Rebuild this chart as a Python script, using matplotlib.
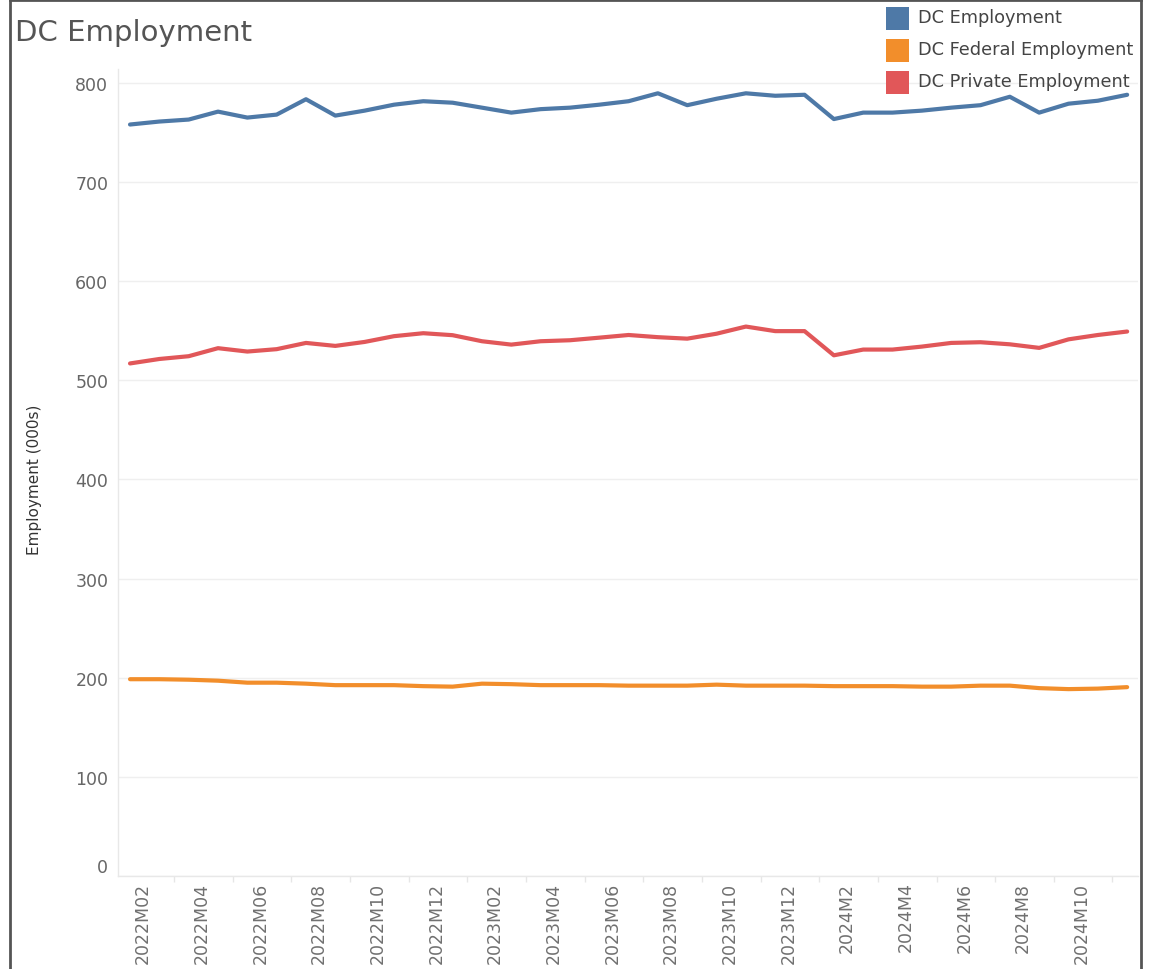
import matplotlib
matplotlib.use("Agg")
import matplotlib.pyplot as plt
from matplotlib.lines import Line2D
from matplotlib.patches import Rectangle
import numpy as np

plt.rcParams["font.family"] = ["DejaVu Sans"]

# Monthly series, 2022M02 .. 2024M12 (thousands of jobs)
months = ([f"2022M{m:02d}" for m in range(2, 13)]
          + [f"2023M{m:02d}" for m in range(1, 13)]
          + [f"2024M{m}" for m in range(1, 13)])

dc_employment = [758, 761, 763, 771, 765, 768, 783.5, 767, 772, 778, 781.5, 780,
                 775, 770, 773.5, 775, 778, 781.5, 789.5, 777.5, 784, 789.5, 787, 788,
                 763.5, 770, 770, 772, 775, 777.5, 786, 770, 779, 782, 788]
dc_federal = [198.5, 198.5, 198, 197, 195, 195, 194, 192.5, 192.5, 192.5, 191.5, 191,
              194, 193.5, 192.5, 192.5, 192.5, 192, 192, 192, 193, 192, 192, 192,
              191.5, 191.5, 191.5, 191, 191, 192, 192, 189.5, 188.5, 189, 190.5]
dc_private = [517, 521.5, 524.3, 532.4, 529, 531.4, 537.7, 534.7, 538.7, 544.5, 547.5, 545.5,
              539.4, 536, 539.4, 540.4, 543, 545.7, 543.5, 542, 547, 554.2, 549.6, 549.6,
              525.2, 531, 531, 534, 537.7, 538.4, 536.3, 532.7, 541.3, 545.7, 549.2]

series_names = ["DC Employment", "DC Federal Employment", "DC Private Employment"]
series_values = [dc_employment, dc_federal, dc_private]
series_colors = ["#4e79a7", "#f28e2b", "#e15759"]

y_ticks = [0, 100, 200, 300, 400, 500, 600, 700, 800]

W, H = 1157, 970
fig = plt.figure(figsize=(W / 100, H / 100), dpi=100)
fig.patch.set_facecolor("white")

def fx(px):
    return px / W

def fy(py):
    return 1 - py / H

ax = fig.add_axes([fx(118), fy(877), fx(1138) - fx(118), fy(70) - fy(877)])

x = np.arange(len(months))
for vals, col in zip(series_values, series_colors):
    ax.plot(x, vals, color=col, lw=3.0, solid_joinstyle="round", solid_capstyle="round", zorder=3)

ax.set_xlim(-0.41, len(months) - 1 + 0.37)
ax.set_ylim(0, 814)

# horizontal grid
ax.set_yticks(y_ticks)
ax.set_yticklabels([str(v) for v in y_ticks])
ax.yaxis.grid(True, color="#efefef", lw=1.0, zorder=0)
ax.tick_params(axis="y", length=0, pad=7, labelsize=12.5, labelcolor="#666666")
ax.get_yticklabels()[0].set_va("bottom")

# x labels every second month, centred in two-month slots
label_idx = list(range(0, len(months) - 1, 2))
ax.set_xticks([i + 0.45 for i in label_idx])
ax.set_xticklabels([months[i] for i in label_idx], rotation=90)
ax.tick_params(axis="x", length=0, pad=4, labelsize=12.5, labelcolor="#707070")
ax.set_xticks([i + 0.5 for i in range(1, len(months) - 1, 2)], minor=True)
ax.tick_params(axis="x", which="minor", length=4, width=1, color="#e6e6e6")

for side in ["top", "right"]:
    ax.spines[side].set_visible(False)
for side in ["left", "bottom"]:
    ax.spines[side].set_color("#e8e8e8")
    ax.spines[side].set_linewidth(1)

# axis title
fig.text(fx(35), fy(480), "Employment (000s)", rotation=90, ha="center", va="center",
         fontsize=11, color="#333333")

# title
fig.text(fx(15), fy(33), "DC Employment", ha="left", va="center", fontsize=21, color="#555555")

# legend
for i, (name, col) in enumerate(zip(series_names, series_colors)):
    cy = 19 + 32 * i
    fig.patches.append(Rectangle((fx(886), fy(cy + 11.5)), fx(23), fy(0) - fy(23),
                                 transform=fig.transFigure, facecolor=col, edgecolor="none"))
    fig.text(fx(918), fy(cy - 1), name, ha="left", va="center", fontsize=12.8, color="#444444")

# outer frame
frame_kw = dict(transform=fig.transFigure, color="#555555", lw=2)
fig.add_artist(Line2D([fx(10), fx(10)], [fy(0), fy(H)], **frame_kw))
fig.add_artist(Line2D([fx(10), fx(1141)], [fy(0.5), fy(0.5)], **frame_kw))
fig.add_artist(Line2D([fx(1141), fx(1141)], [fy(0), fy(H)], **frame_kw))

fig.savefig("out.png", dpi=100, facecolor="white")
